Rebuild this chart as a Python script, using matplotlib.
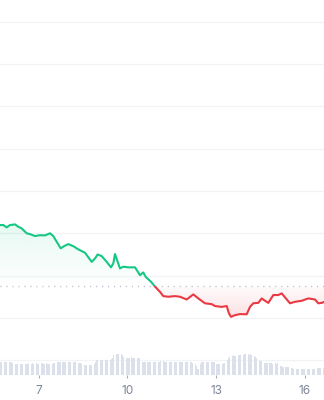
import numpy as np
import matplotlib
matplotlib.use("Agg")
import matplotlib.pyplot as plt
from matplotlib.patches import Rectangle
from matplotlib.colors import to_rgb
from matplotlib.path import Path

# ---- data ----
price_day = [5.691, 5.803, 5.918, 6.029, 6.198, 6.310, 6.425, 6.594, 6.706, 6.875,
             7.044, 7.213, 7.382, 7.494, 7.608, 7.744, 7.855, 8.001, 8.170, 8.339,
             8.566, 8.792, 8.904, 8.995, 9.130, 9.299, 9.445, 9.523, 9.580, 9.671,
             9.749, 9.861, 10.030, 10.257, 10.426, 10.537, 10.618, 10.798, 10.933, 11.102,
             11.213, 11.383, 11.609, 11.778, 12.005, 12.228, 12.397, 12.624, 12.850, 12.962,
             13.188, 13.358, 13.435, 13.503, 13.638, 13.807, 14.034, 14.145, 14.257, 14.426,
             14.541, 14.653, 14.765, 14.934, 15.103, 15.217, 15.329, 15.498, 15.667, 15.894,
             16.117, 16.344, 16.455, 16.570, 16.648]
price = [1.4439, 1.4439, 1.4428, 1.4439, 1.4442, 1.4431, 1.4423, 1.4400, 1.4396, 1.4387,
         1.4391, 1.4390, 1.4400, 1.4387, 1.4360, 1.4329, 1.4339, 1.4349, 1.4339, 1.4324,
         1.4308, 1.4265, 1.4281, 1.4300, 1.4292, 1.4265, 1.4239, 1.4258, 1.4302, 1.4265,
         1.4234, 1.4242, 1.4239, 1.4239, 1.4202, 1.4215, 1.4194, 1.4171, 1.4148, 1.4123,
         1.4103, 1.4100, 1.4103, 1.4100, 1.4087, 1.4111, 1.4092, 1.4069, 1.4065, 1.4056,
         1.4052, 1.4056, 1.4021, 1.4005, 1.4013, 1.4018, 1.4017, 1.4052, 1.4069, 1.4071,
         1.4092, 1.4081, 1.4071, 1.4108, 1.4108, 1.4116, 1.4097, 1.4069, 1.4076, 1.4081,
         1.4092, 1.4087, 1.4069, 1.4071, 1.4075]
baseline_price = 1.4150

volume_start_day = 5 + 17 / 24
volume = [
    13.4, 13.2, 13.0, 13.5, 13.3, 13.1, 13.4,
    13.2, 13.0, 12.6, 12.0, 11.4, 11.0, 10.9, 11.1, 10.8, 10.9, 11.2, 11.4, 11.6, 11.5, 11.3, 11.5, 11.6, 11.4, 11.5, 11.7, 11.5, 11.4, 11.6, 11.5,
    11.5, 11.4, 11.6, 11.7, 11.5, 11.4, 11.6, 11.5, 11.3, 11.5, 11.6, 11.4, 11.7, 11.9, 12.3, 12.7, 12.8, 12.9, 12.7, 13.0, 12.8, 12.7, 12.9, 12.8,
    12.9, 12.7, 12.8, 13.0, 12.6, 12.8, 12.7, 12.9, 12.5, 12.3, 11.6, 11.0, 10.4, 10.1, 10.0, 10.2, 10.1, 9.9, 10.1, 10.2, 10.5, 11.5, 13.5, 14.8,
    15.0, 15.2, 15.1, 14.9, 15.0, 15.2, 15.0, 14.9, 15.1, 15.0, 15.3, 15.8, 17.5, 20.0, 21.0, 21.3, 21.1, 20.9, 21.2, 20.7, 20.2, 18.0, 17.4, 17.2,
    17.4, 17.5, 17.3, 17.6, 17.4, 17.2, 17.5, 17.7, 17.4, 17.3, 16.8, 15.5, 13.5, 13.3, 13.2, 13.0, 13.3, 13.2, 13.1, 13.4, 13.6, 13.5, 13.3, 13.2,
    13.3, 13.1, 13.4, 13.6, 13.8, 13.7, 13.5, 13.3, 13.1, 13.2, 13.0, 13.2, 13.4, 13.6, 13.5, 13.3, 13.2, 13.1, 13.3, 13.5, 13.4, 13.2, 13.0, 13.2,
    13.4, 13.3, 13.1, 12.9, 12.7, 12.5, 12.2, 11.5, 9.5, 6.0, 5.8, 11.5, 12.6, 12.9, 12.8, 13.0, 12.9, 12.7, 12.9, 13.0, 12.8, 12.9, 13.1, 13.0,
    11.0, 10.8, 10.9, 11.0, 11.2, 11.5, 11.8, 12.5, 13.5, 15.0, 17.0, 18.5, 19.2, 19.5, 19.6, 19.4, 19.5, 19.3, 19.6, 19.8, 20.0, 20.3, 20.5, 20.6,
    20.7, 20.8, 20.6, 20.5, 20.7, 20.3, 20.0, 19.5, 18.5, 17.0, 15.5, 14.5, 14.3, 14.0, 13.5, 12.5, 12.0, 11.8, 11.7, 11.6, 11.8, 11.7, 11.5, 11.6,
    11.7, 11.5, 11.6, 11.0, 9.5, 8.6, 8.3, 8.2, 8.4, 8.3, 8.2, 8.3, 8.1, 7.5, 6.8, 6.3, 6.0, 5.9, 6.0, 5.8, 5.9, 6.0, 5.8, 5.9,
    6.0, 5.9, 6.1, 6.0, 5.8, 6.0, 5.9, 6.1, 6.3, 6.6, 6.8, 6.9, 6.7, 6.9, 7.0, 6.8,
]
tick_days = [7, 10, 13, 16]
tick_labels = ["7", "10", "13", "16"]
grid_prices = [1.38, 1.40, 1.42, 1.44, 1.46, 1.48, 1.50, 1.52, 1.54]

# ---- style ----
GREEN = "#16c784"
RED = "#ea3943"
GRID = "#f1f3f6"
TEXT = "#7c8597"
BAR = "#dbe0ea"

plt.rcParams["font.family"] = ["Inter", "DejaVu Sans"]

W, H = 324, 400
fig = plt.figure(figsize=(W / 100, H / 100), dpi=100)
ax = fig.add_axes([0, 25 / H, 1, 375 / H])

x = np.array(price_day)
y = np.array(price)
xmin, xmax = 5.691, 16.648
ymin, ymax = 1.3730, 1.5503
ax.set_xlim(xmin, xmax)
ax.set_ylim(ymin, ymax)

for gp in grid_prices:
    ax.axhline(gp, color=GRID, lw=0.9, zorder=0)


def grad_fill(where, y0, y1, color, a0, a1):
    poly = ax.fill_between(x, y, baseline_price, where=where, interpolate=True,
                           color="none", lw=0)
    rgb = to_rgb(color)
    n = 256
    grad = np.zeros((n, 1, 4))
    grad[:, 0, :3] = rgb
    grad[:, 0, 3] = np.linspace(a0, a1, n)
    im = ax.imshow(grad, extent=[xmin, xmax, y0, y1], origin="lower",
                   aspect="auto", zorder=1, interpolation="bilinear")
    paths = poly.get_paths()
    if paths:
        verts = np.concatenate([p.vertices for p in paths])
        codes = np.concatenate([p.codes if p.codes is not None else
                                np.r_[Path.MOVETO, [Path.LINETO] * (len(p.vertices) - 1)]
                                for p in paths])
        im.set_clip_path(Path(verts, codes), ax.transData)


grad_fill(y >= baseline_price, baseline_price, y.max(), GREEN, 0.0, 0.11)
grad_fill(y <= baseline_price, y.min(), baseline_price, RED, 0.15, 0.02)

lg, = ax.plot(x, y, color=GREEN, lw=1.5, zorder=3, solid_joinstyle="round")
lg.set_clip_path(Rectangle((xmin, baseline_price), xmax - xmin, ymax - baseline_price,
                           transform=ax.transData))
lr, = ax.plot(x, y, color=RED, lw=1.5, zorder=3, solid_joinstyle="round")
lr.set_clip_path(Rectangle((xmin, ymin), xmax - xmin, baseline_price - ymin,
                           transform=ax.transData))

ax.axhline(baseline_price, color="#b9bfca", lw=1.0, linestyle=(0, (0.8, 3.5)), zorder=2)

axv = ax.twinx()
axv.set_position(ax.get_position())
vx = volume_start_day + np.arange(len(volume)) / 24
axv.bar(vx, volume, width=0.65 / 24, color=BAR, lw=0, zorder=1)
axv.set_ylim(0, 375)
axv.set_xlim(xmin, xmax)
axv.axis("off")

ax.set_xticks(tick_days)
ax.set_xticklabels(tick_labels)
ax.set_yticks([])
ax.tick_params(axis="x", length=2.5, width=0.8, color="#a6acb9", labelcolor=TEXT,
               labelsize=8.5, pad=5)
for s in ax.spines.values():
    s.set_visible(False)

fig.savefig("out.png", dpi=100, facecolor="white")
